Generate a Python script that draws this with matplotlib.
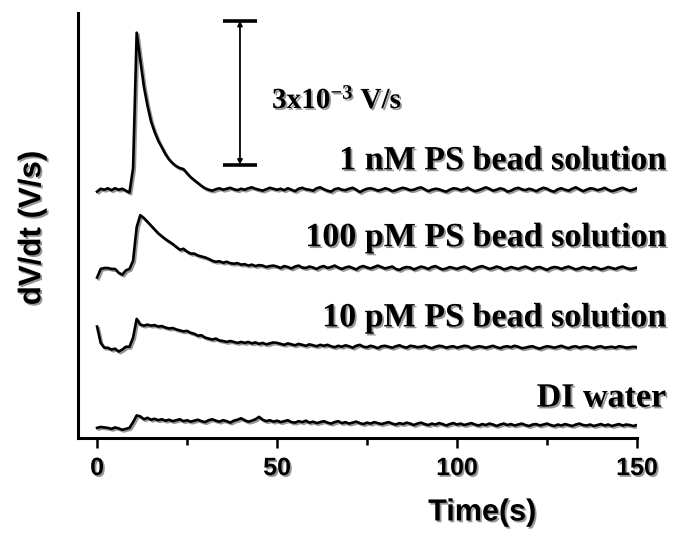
import numpy as np
import matplotlib
matplotlib.use("Agg")
import matplotlib.pyplot as plt
import matplotlib.patheffects as pe

# time base of the recordings (s), one sample per second
time_s = np.arange(0, 151, 1)

# dV/dt traces, in 1e-3 V/s, each relative to its own baseline
trace_1nM = [
    -0.04, 0.02, 0.0, 0.03, -0.01, 0.03, 0.0, 0.02, -0.02, -0.06,
    0.45, 3.27, 2.7, 2.15, 1.75, 1.42, 1.2, 1.02, 0.88, 0.74,
    0.63, 0.55, 0.49, 0.45, 0.43, 0.34, 0.26, 0.2, 0.14, 0.08,
    0.03, 0.0, -0.02, 0.01, 0.03, 0.0, 0.02, 0.04, 0.01, -0.01,
    0.02, 0.0, 0.03, 0.05, 0.02, 0.0, -0.02, 0.01, 0.04, 0.02,
    0.0, 0.02, -0.01, 0.03, 0.0, -0.03, 0.02, 0.04, 0.01, 0.0,
    -0.02, 0.03, 0.05, 0.01, -0.02, -0.04, 0.01, 0.03, 0.0, -0.01,
    0.02, 0.04, 0.0, -0.05, -0.01, 0.02, 0.03, 0.01, -0.02, 0.0,
    0.03, 0.01, -0.03, -0.01, 0.02, 0.04, 0.02, -0.01, 0.0, 0.03,
    0.05, 0.01, -0.03, 0.0, 0.02, 0.01, -0.02, -0.04, 0.0, 0.03,
    0.02, -0.01, 0.01, 0.04, 0.0, -0.03, -0.01, 0.02, 0.05, 0.02,
    -0.02, 0.0, 0.03, 0.01, -0.04, -0.02, 0.02, 0.04, 0.01, -0.01,
    0.02, 0.0, -0.03, 0.01, 0.04, 0.02, -0.02, -0.04, 0.01, 0.03,
    0.0, -0.02, 0.02, 0.05, 0.01, -0.03, 0.0, 0.03, 0.02, -0.01,
    0.01, 0.04, 0.0, -0.03, -0.01, 0.02, 0.04, 0.01, -0.02, 0.0,
    0.03,
]
trace_100pM = [
    -0.2, -0.02, 0.0, 0.0, -0.02, -0.02, -0.1, -0.14, -0.05, -0.02,
    0.15, 0.85, 1.1, 1.04, 0.96, 0.88, 0.8, 0.72, 0.66, 0.6,
    0.55, 0.5, 0.44, 0.38, 0.4, 0.34, 0.3, 0.3, 0.26, 0.24,
    0.22, 0.19, 0.15, 0.13, 0.14, 0.11, 0.13, 0.1, 0.09, 0.1,
    0.07, 0.08, 0.05, 0.07, 0.04, 0.06, 0.05, 0.02, 0.04, 0.05,
    0.03, 0.0, 0.04, 0.02, -0.01, 0.03, 0.05, 0.01, 0.0, 0.03,
    0.01, -0.02, 0.02, 0.04, 0.0, 0.02, 0.05, 0.01, -0.02, 0.01,
    0.03, 0.0, -0.03, 0.02, 0.04, 0.01, -0.01, 0.02, 0.05, 0.02,
    -0.01, 0.01, 0.03, -0.02, -0.04, 0.0, 0.02, 0.01, -0.03, 0.0,
    0.03, 0.01, -0.02, 0.02, 0.04, 0.0, -0.03, -0.01, 0.02, 0.0,
    -0.02, 0.01, 0.03, 0.0, -0.04, -0.01, 0.02, 0.04, 0.01, -0.02,
    0.0, 0.03, 0.01, -0.03, -0.01, 0.02, 0.0, -0.02, 0.01, 0.03,
    0.0, -0.03, 0.01, 0.02, -0.01, -0.04, 0.0, 0.02, 0.01, -0.02,
    0.01, 0.03, 0.0, -0.03, -0.01, 0.02, 0.0, -0.02, 0.02, 0.0,
    -0.03, -0.01, 0.02, 0.0, -0.02, 0.01, 0.03, 0.0, -0.02, -0.01,
    0.01,
]
trace_10pM = [
    0.42, 0.08, -0.02, -0.02, -0.06, -0.04, -0.1, -0.06, 0.0, 0.0,
    0.19, 0.58, 0.46, 0.44, 0.46, 0.44, 0.45, 0.42, 0.43, 0.4,
    0.38, 0.39, 0.36, 0.34, 0.32, 0.33, 0.29, 0.27, 0.23, 0.24,
    0.19, 0.17, 0.15, 0.17, 0.13, 0.12, 0.1, 0.12, 0.1, 0.08,
    0.1, 0.08, 0.1, 0.07, 0.09, 0.06, 0.08, 0.05, 0.07, 0.09,
    0.08, 0.06, 0.04, 0.07, 0.05, 0.03, 0.06, 0.04, 0.02, 0.05,
    0.03, 0.01, 0.04, 0.02, 0.04, 0.01, -0.01, 0.02, 0.0, 0.03,
    0.01, -0.02, 0.02, 0.04, 0.0, -0.01, 0.02, 0.0, -0.03, 0.01,
    0.02, 0.0, -0.02, 0.01, 0.03, 0.0, -0.02, 0.02, 0.01, -0.01,
    0.0, 0.02, -0.01, -0.03, 0.0, 0.02, 0.01, -0.02, 0.0, 0.01,
    -0.02, 0.0, 0.02, 0.01, -0.03, -0.01, 0.01, 0.0, -0.02, 0.0,
    0.02, -0.01, -0.03, 0.0, 0.01, -0.01, 0.02, 0.0, -0.03, -0.02,
    0.0, 0.01, -0.02, -0.04, -0.01, 0.01, 0.0, -0.02, 0.0, 0.02,
    -0.01, -0.03, 0.0, 0.01, -0.02, 0.0, 0.01, -0.01, -0.03, 0.0,
    0.01, -0.02, -0.01, 0.0, -0.02, 0.01, 0.0, -0.02, -0.01, 0.0,
    -0.01,
]
trace_water = [
    -0.04, -0.02, -0.03, -0.04, -0.06, -0.03, -0.05, -0.08, -0.06, -0.04,
    0.08, 0.22, 0.2, 0.14, 0.17, 0.13, 0.15, 0.12, 0.14, 0.11,
    0.13, 0.1, 0.12, 0.14, 0.1, 0.12, 0.09, 0.11, 0.13, 0.1,
    0.08, 0.12, 0.14, 0.11, 0.09, 0.12, 0.1, 0.07, 0.11, 0.13,
    0.16, 0.12, 0.09, 0.11, 0.14, 0.19, 0.13, 0.1, 0.12, 0.09,
    0.11, 0.08, 0.1, 0.12, 0.08, 0.07, 0.1, 0.08, 0.11, 0.07,
    0.09, 0.06, 0.08, 0.1, 0.07, 0.05, 0.08, 0.1, 0.06, 0.08,
    0.05, 0.07, 0.09, 0.06, 0.04, 0.07, 0.05, 0.08, 0.06, 0.04,
    0.06, 0.08, 0.05, 0.03, 0.06, 0.04, 0.07, 0.05, 0.02, 0.05,
    0.07, 0.04, 0.02, 0.05, 0.03, 0.06, 0.04, 0.01, 0.04, 0.06,
    0.03, 0.05, 0.02, 0.04, 0.06, 0.03, 0.01, 0.04, 0.02, 0.05,
    0.03, 0.0, 0.03, 0.05, 0.02, 0.04, 0.01, 0.03, 0.05, 0.02,
    0.0, 0.03, 0.04, 0.01, 0.03, 0.05, 0.02, 0.0, 0.03, 0.01,
    0.04, 0.02, 0.0, 0.03, 0.05, 0.02, 0.01, 0.03, 0.0, 0.02,
    0.04, 0.01, 0.03, 0.0, 0.02, 0.04, 0.01, 0.03, 0.02, 0.0,
    0.02,
]

labels = ["1 nM PS bead solution", "100 pM PS bead solution",
          "10 pM PS bead solution", "DI water"]
traces = [trace_1nM, trace_100pM, trace_10pM, trace_water]

# vertical stacking of the traces and their labels (1e-3 V/s)
offsets = [5.17, 3.54, 1.90, 0.25]
label_y = [5.77, 4.17, 2.50, 0.83]

# scale bar: 3x10^-3 V/s
scale_x = 39.7
scale_bottom = 5.69
scale_len = 3.0

serif = ["Liberation Serif", "DejaVu Serif"]
sans = ["Liberation Sans", "DejaVu Sans"]

# superscript in the scale label drawn with the same serif face
plt.rcParams["mathtext.fontset"] = "custom"
plt.rcParams["mathtext.rm"] = "Liberation Serif:bold"
plt.rcParams["mathtext.bf"] = "Liberation Serif:bold"
plt.rcParams["mathtext.default"] = "bf"

line_fx = [pe.SimpleLineShadow(offset=(1.2, -1.2), shadow_color="0.55", alpha=0.9),
           pe.Normal()]
text_fx = [pe.SimplePatchShadow(offset=(1.3, -1.3), shadow_rgbFace="0.55", alpha=0.9),
           pe.Normal()]

fig = plt.figure(figsize=(6.73, 5.37), dpi=100)
ax = fig.add_axes([0.1159, 0.1844, 0.8306, 0.7914])

for y, off in zip(traces, offsets):
    ax.plot(time_s, np.asarray(y) + off, color="black", lw=1.9,
            solid_joinstyle="round", path_effects=line_fx)

for text, ly in zip(labels, label_y):
    ax.text(158, ly, text, ha="right", va="center", fontsize=24.5,
            fontweight="bold", family=serif, clip_on=False, path_effects=text_fx)

# scale bar with end caps
ax.annotate("", xy=(scale_x, scale_bottom + scale_len), xytext=(scale_x, scale_bottom),
            arrowprops=dict(arrowstyle="<|-|>", color="black", lw=1.3,
                            mutation_scale=7, shrinkA=0, shrinkB=0))
ax.hlines([scale_bottom, scale_bottom + scale_len], scale_x - 4.8, scale_x + 4.8,
          color="black", lw=2.6)
ax.text(48.6, 7.04, r"3x10$^{-3}$ V/s", ha="left", va="center",
        fontsize=21, fontweight="bold", family=serif, path_effects=text_fx)

ax.set_xlim(-5.3, 150)
ax.set_ylim(0, 8.85)

for side in ["top", "right"]:
    ax.spines[side].set_visible(False)
for side in ["left", "bottom"]:
    ax.spines[side].set_linewidth(2.2)

ax.set_yticks([])
ax.set_xticks([0, 50, 100, 150])
ax.set_xticks([25, 75, 125], minor=True)
ax.tick_params(axis="x", which="major", length=7, width=1.8, pad=6)
ax.tick_params(axis="x", which="minor", length=5, width=1.8)
for lab in ax.get_xticklabels():
    lab.set_fontsize(18)
    lab.set_fontweight("bold")
    lab.set_family(sans)
    lab.set_path_effects(text_fx)

ax.set_xlabel("Time(s)", fontsize=22, fontweight="bold", family=sans,
              path_effects=text_fx)
ax.xaxis.set_label_coords(0.723, -0.14)
ax.set_ylabel("dV/dt (V/s)", fontsize=22.5, fontweight="bold", family=sans,
              path_effects=text_fx)
ax.yaxis.set_label_coords(-0.055, 0.494)

fig.savefig("out.png", dpi=100)
